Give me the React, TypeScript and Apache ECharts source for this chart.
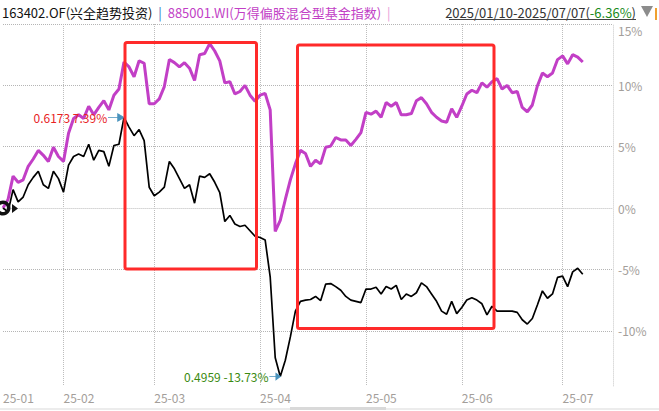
import React, { useEffect, useRef } from 'react';
import * as echarts from 'echarts';

// ---------- data ----------
const startDate = '2025-01-10';
const endDate = '2025-07-07';
const holidays = [
  '2025-01-28', '2025-01-29', '2025-01-30', '2025-01-31', '2025-02-03', '2025-02-04',
  '2025-04-04', '2025-05-01', '2025-05-02', '2025-05-05', '2025-06-02',
];
const padDates = ['2025-07-08', '2025-07-09', '2025-07-10', '2025-07-11', '2025-07-14', '2025-07-15'];

const fundName = '163402.OF(兴全趋势投资)';
const indexName = '885001.WI(万得偏股混合型基金指数)';
const periodText = '2025/01/10-2025/07/07';
const periodReturn = '-6.36%';
const peakNav = '0.6173';
const troughNav = '0.4959';

// cumulative return, % (fund, black)
const fundReturn = [
  0, -0.3, 1.5, 0.5, 0.9, 1.9, 2.5, 3.0, 1.9, 1.6,
  3.0, 2.4, 1.3, 3.5, 4.2, 4.4, 4.2, 5.2, 3.9, 4.7,
  4.6, 3.4, 5.1, 5.2, 7.39, 6.6, 5.9, 6.4, 5.5, 1.7,
  1.0, 1.3, 1.7, 3.8, 3.2, 2.4, 1.6, 1.9, 0.4, 2.6,
  2.5, 2.8, 2.1, 1.25, -1.1, -0.6, -1.3, -1.5, -1.4, -1.85,
  -2.3, -2.4, -2.6, -5.6, -12.2, -13.73, -12.4, -10.5, -8.4, -7.6,
  -7.5, -7.45, -7.2, -7.55, -6.2, -6.15, -6.4, -6.7, -7.2, -7.5,
  -7.6, -7.7, -6.6, -6.6, -6.45, -7.0, -6.4, -6.6, -6.3, -7.45,
  -7.0, -7.2, -6.9, -6.1, -6.4, -7.0, -7.6, -8.4, -8.65, -7.6,
  -8.6, -8.1, -7.5, -7.3, -7.5, -7.8, -8.7, -8.0, -8.4, -8.4,
  -8.4, -8.4, -8.5, -9.1, -9.45, -9.0, -7.9, -6.75, -7.35, -7.0,
  -5.65, -5.55, -6.4, -5.2, -4.9, -5.4,
];

// cumulative return, % (index, magenta)
const indexReturn = [
  0, 0.7, 2.6, 2.1, 2.3, 3.4, 4.0, 4.7, 4.3, 3.8,
  4.95, 4.2, 3.8, 6.1, 7.3, 7.6, 7.3, 8.3, 7.6, 8.2,
  8.75, 8.0, 9.2, 9.7, 11.9, 11.5, 10.7, 12.0, 11.8, 8.5,
  8.5, 8.9, 9.9, 12.1, 11.85, 11.5, 11.85, 11.4, 10.4, 12.5,
  12.6, 13.4, 12.8, 12.0, 10.2, 10.3, 9.3, 9.5, 10.0, 9.2,
  8.7, 9.2, 9.35, 8.0, -1.9, -1.0, 0.7, 2.3, 3.6, 4.7,
  4.45, 3.4, 3.9, 3.6, 4.95, 5.05, 5.75, 5.55, 5.55, 5.1,
  5.6, 6.15, 7.8, 7.65, 7.9, 7.4, 8.6, 8.3, 8.6, 7.6,
  7.6, 7.7, 8.75, 9.0, 8.5, 7.8, 7.4, 7.1, 7.0, 8.1,
  7.4, 8.3, 9.3, 9.6, 9.4, 10.2, 9.85, 10.3, 10.55, 9.7,
  10.0, 9.4, 9.5, 8.2, 7.85, 8.4, 9.95, 11.0, 10.7, 11.0,
  12.1, 12.4, 11.75, 12.5, 12.3, 11.9,
];

const yTicks = [-10, -5, 0, 5, 10, 15];

function buildDates(): string[] {
  const out: string[] = [];
  const d = new Date(startDate + 'T00:00:00Z');
  const end = new Date(endDate + 'T00:00:00Z');
  while (d <= end) {
    const s = d.toISOString().slice(0, 10);
    const w = d.getUTCDay();
    if (w !== 0 && w !== 6 && !holidays.includes(s)) out.push(s);
    d.setUTCDate(d.getUTCDate() + 1);
  }
  return out;
}

const FONT = '"Noto Sans CJK SC", "Noto Sans", sans-serif';

export default function App() {
  const ref = useRef<HTMLDivElement>(null);

  useEffect(() => {
    document.body.style.margin = '0';
    if (!ref.current) return;
    const chart = echarts.init(ref.current, undefined, { renderer: 'svg' });

    const dates = buildDates().concat(padDates);
    const isMonthStart = (i: number) =>
      i === 0 || (i < dates.length && dates[i].slice(0, 7) !== dates[i - 1].slice(0, 7));

    const maxV = Math.max(...fundReturn);
    const minV = Math.min(...fundReturn);
    const peakIdx = fundReturn.indexOf(maxV);
    const troughIdx = fundReturn.indexOf(minV);

    const arrowPath = 'path://M0,4L13,4M10,1L16,4L10,7Z';

    chart.setOption({
      animation: false,
      textStyle: { fontFamily: FONT },
      grid: { left: 1, right: 46, top: 24, bottom: 25 },
      xAxis: {
        type: 'category',
        data: dates,
        boundaryGap: false,
        axisLine: { show: true, lineStyle: { color: '#d6d6d6', type: 'dotted' } },
        axisTick: { show: false },
        axisLabel: {
          interval: (i: number) => isMonthStart(i),
          formatter: (v: string) => v.slice(2, 7),
          align: 'left',
          color: '#a39e9a',
          fontSize: 12,
          margin: 5,
          fontFamily: FONT,
          hideOverlap: false,
        },
        splitLine: {
          show: true,
          interval: (i: number) => i > 0 && isMonthStart(i),
          lineStyle: { type: 'dotted', color: '#bdbdbd', width: 1 },
        },
      },
      yAxis: {
        type: 'value',
        position: 'right',
        min: -14.5,
        max: 15,
        axisLine: { show: true, lineStyle: { color: '#dcdcdc', type: 'dotted' } },
        axisTick: { show: false, customValues: yTicks },
        axisLabel: {
          customValues: yTicks,
          formatter: '{value}%',
          color: '#a39e9a',
          fontSize: 12,
          margin: 5,
          fontFamily: FONT,
          verticalAlignMaxLabel: 'top',
        },
        splitLine: { show: true, lineStyle: { type: 'dotted', color: '#b5b5b5', width: 1 } },
      },
      series: [
        {
          name: fundName,
          type: 'line',
          data: fundReturn,
          symbol: 'none',
          lineStyle: { color: '#000000', width: 1.7 },
          z: 3,
          markPoint: {
            silent: true,
            data: [
              {
                coord: [peakIdx, maxV],
                symbol: arrowPath,
                symbolSize: [16, 7],
                symbolOffset: [-8, 0],
                itemStyle: { color: '#4a93bd', borderColor: '#4a93bd', borderWidth: 1 },
                label: {
                  show: true,
                  position: 'left',
                  distance: 0,
                  formatter: `${peakNav} ${maxV.toFixed(2)}%`,
                  color: '#e8231f',
                  fontSize: 12,
                  fontFamily: FONT,
                },
              },
              {
                coord: [troughIdx, minV],
                symbol: arrowPath,
                symbolSize: [11, 6],
                symbolOffset: [-5.5, 0],
                itemStyle: { color: '#4a93bd', borderColor: '#4a93bd', borderWidth: 1 },
                label: {
                  show: true,
                  position: 'left',
                  distance: 0,
                  formatter: `${troughNav} ${minV.toFixed(2)}%`,
                  color: '#3a8a10',
                  fontSize: 12,
                  fontFamily: FONT,
                },
              },
            ],
          },
        },
        {
          name: indexName,
          type: 'line',
          data: indexReturn,
          symbol: 'none',
          lineStyle: { color: '#c23fc6', width: 3 },
          z: 2,
        },
      ],
      graphic: [
        {
          type: 'text',
          x: 2,
          y: 12,
          style: {
            text: `{a|${fundName}}  {b||}  {c|${indexName}}  {d||}`,
            verticalAlign: 'middle',
            font: `13px ${FONT}`,
            rich: {
              a: { fill: '#111111', fontSize: 13, fontFamily: FONT },
              b: { fill: '#2f72c0', fontSize: 13, fontFamily: FONT },
              c: { fill: '#c23fc6', fontSize: 13, fontFamily: FONT },
              d: { fill: '#e89ad8', fontSize: 13, fontFamily: FONT },
            },
          },
        },
        {
          type: 'text',
          x: 636,
          y: 12,
          style: {
            text: `{u|${periodText}(}{g|${periodReturn}}{u|)}`,
            align: 'right',
            verticalAlign: 'middle',
            font: `13px ${FONT}`,
            rich: {
              u: { fill: '#333333', fontSize: 13, fontFamily: FONT },
              g: { fill: '#1a8a1a', fontSize: 13, fontFamily: FONT },
            },
          },
        },
        { type: 'line', shape: { x1: 449, y1: 19.5, x2: 636, y2: 19.5 }, style: { stroke: '#444444', lineWidth: 1 } },
        { type: 'polygon', shape: { points: [[641, 6], [653, 6], [647, 17]] }, style: { fill: '#8c8c8c' } },
        { type: 'rect', shape: { x: 655, y: 8, width: 2, height: 12 }, style: { fill: '#f0a030' } },
        { type: 'ring', shape: { cx: 3, cy: 208, r: 7.5, r0: 4 }, style: { fill: '#111111' }, z: 100 },
        { type: 'polygon', shape: { points: [[12, 204], [18, 208.5], [12, 213]] }, style: { fill: '#111111' }, z: 100 },
        {
          type: 'rect',
          shape: { x: 125, y: 42.5, width: 131.5, height: 226.5, r: 2 },
          style: { fill: 'none', stroke: '#ff2a2a', lineWidth: 3 },
          z: 100,
        },
        {
          type: 'rect',
          shape: { x: 297.5, y: 45, width: 196.5, height: 283.5, r: 2 },
          style: { fill: 'none', stroke: '#ff2a2a', lineWidth: 3 },
          z: 100,
        },
        { type: 'rect', shape: { x: 0, y: 408, width: 659, height: 2 }, style: { fill: '#ececec' } },
        { type: 'rect', shape: { x: 290, y: 407, width: 96, height: 3 }, style: { fill: '#d9d9d9' } },
      ],
    });

    return () => chart.dispose();
  }, []);

  return <div ref={ref} style={{ width: 659, height: 411 }} />;
}
